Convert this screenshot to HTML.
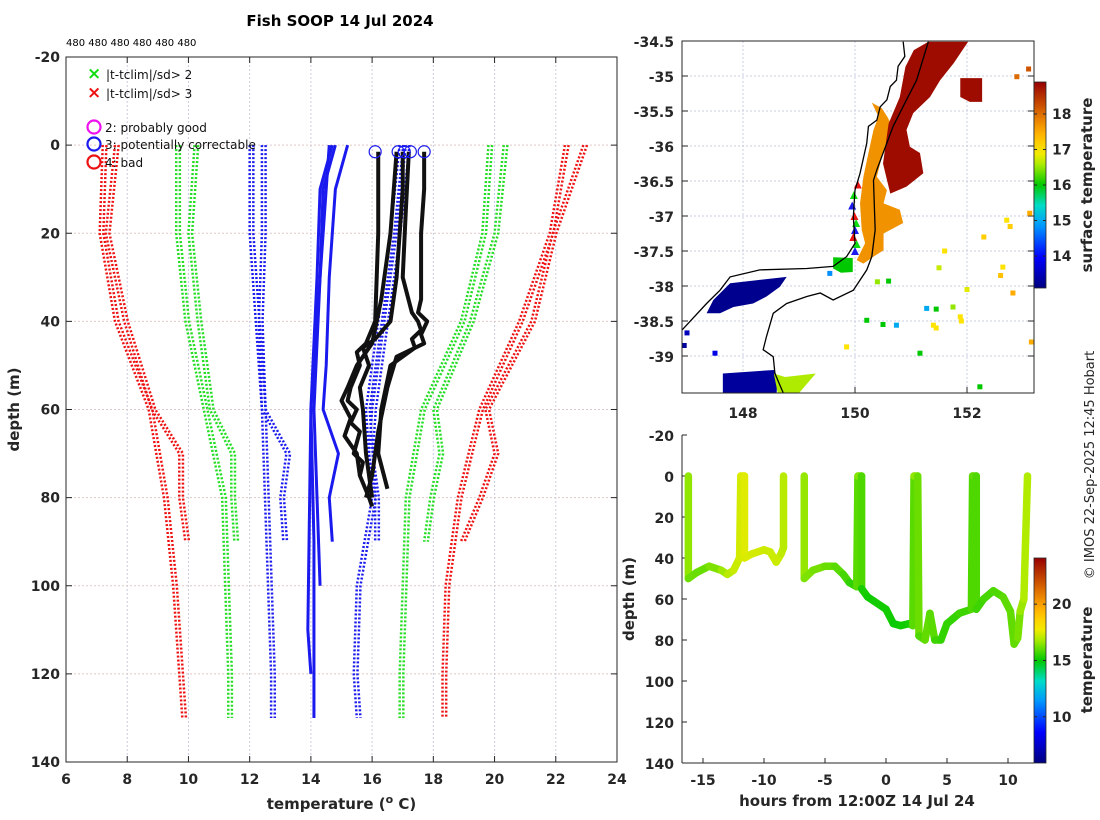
<!DOCTYPE html>
<html><head><meta charset="utf-8">
<style>
html,body{margin:0;padding:0;background:#fff;}
svg{display:block;font-family:"DejaVu Sans","Liberation Sans",sans-serif;}
.tk{font-size:14px;font-weight:bold;fill:#262626;}
.lab{font-size:15px;font-weight:bold;fill:#262626;}
</style></head>
<body>
<svg id="fig" width="1100" height="820" viewBox="0 0 1100 820">
<text x="340" y="26" text-anchor="middle" style="font-size:15px;font-weight:bold;fill:#000">Fish SOOP 14 Jul 2024</text>
<text x="66" y="46" style="font-size:10px;fill:#000">480 480 480 480 480 480</text>
<g id="main"></g>
<g id="map"></g>
<g id="bot"></g>
<text transform="translate(1094,465) rotate(-90)" text-anchor="middle" style="font-size:13px;fill:#262626">© IMOS 22-Sep-2025 12:45 Hobart</text>
</svg>
<script>
// ---------- data: profile plot ----------
const xTicks=[6,8,10,12,14,16,18,20,22,24];
const yTicks=[-20,0,20,40,60,80,100,120,140];
const climDepthLong=[0,20,40,60,80,100,120,130];
const climDepthShort=[0,20,40,60,70,80,90];
const redLeftLong=[7.2,7.1,7.6,8.7,9.2,9.5,9.7,9.8];
const redLeftShort=[7.6,7.3,7.9,8.8,9.7,9.7,9.9];
const greenLeftLong=[9.6,9.6,9.9,10.5,11.1,11.2,11.3,11.3];
const greenLeftShort=[10.2,10.0,10.3,10.7,11.4,11.4,11.5];
const blueLeftLong=[12.0,12.0,12.2,12.4,12.5,12.6,12.7,12.7];
const blueLeftShort=[12.4,12.4,12.3,12.4,13.2,13.0,13.1];
const blueRightLong=[16.9,16.6,16.2,15.8,16.0,15.5,15.4,15.5];
const blueRightShort=[17.1,16.8,16.4,16.0,15.9,16.1,16.1];
const greenRightLong=[19.8,19.6,18.9,17.6,17.1,17.0,16.9,16.9];
const greenRightShort=[20.3,20.0,19.2,18.0,18.2,17.9,17.7];
const redRightLong=[22.3,21.8,20.8,19.5,18.8,18.4,18.3,18.3];
const redRightShort=[22.9,21.9,21.2,19.7,20.0,19.5,18.9];
const solidDepthA=[0,10,30,60,90,120,130];
const solidA=[14.7,14.3,14.2,14.0,14.1,14.1,14.1];
const solidDepthB=[0,10,30,60,80,100];
const solidB=[14.8,14.4,14.3,14.1,14.2,14.3];
const solidDepthC=[0,10,30,50,60,70,80,90];
const solidC=[15.2,14.8,14.6,14.5,14.4,14.9,14.6,14.7];
const solidDepthD=[0,20,60,110,120];
const solidD=[14.6,14.4,14.0,13.9,14.0];
const blkDepth1=[1.5,20,40,45,47,50,55,58,60,63,65,70,72,75,80,82];
const blk1=[16.2,16.2,16.1,15.8,15.5,15.6,15.3,15.2,15.5,15.3,15.6,15.4,15.7,15.6,15.9,16.0];
const blkDepth2=[1.5,10,20,30,40,44,46,50,55,60,70,80];
const blk2=[17.0,17.0,16.9,16.8,16.6,16.1,15.7,15.9,15.6,15.7,15.8,16.0];
const blkDepth3=[1.5,15,30,38,40,42,44,46,50,60,70,78];
const blk3=[17.2,17.1,17.0,17.3,17.5,17.6,17.3,17.4,16.6,16.3,16.2,16.5];
const blkDepth4=[1.5,10,20,35,38,40,43,45,48,55,65,75,80];
const blk4=[17.7,17.7,17.6,17.6,17.5,17.8,17.6,17.7,16.8,16.5,16.2,16.0,15.8];
const blkDepth5=[1.5,20,35,45,50,55,58,62,66,70,75];
const blk5=[16.8,16.6,16.3,16.0,15.5,15.2,15.0,15.3,15.1,15.5,15.6];
const circleTemps=[16.1,16.85,17.05,17.25,17.7];
const circleDepth=1.5;

// ---------- data: map ----------
const lonTicks=[148,150,152];
const latTicks=[-34.5,-35,-35.5,-36,-36.5,-37,-37.5,-38,-38.5,-39];
const mapCbTicks=[14,15,16,17,18];
const coastLon=[150.86,150.89,150.77,150.74,150.63,150.57,150.45,150.39,150.24,150.21,150.09,150.0,149.97,150.0,149.85,149.61,149.14,148.30,147.77,147.59,147.35,146.91];
const coastLat=[-34.51,-34.72,-34.86,-35.06,-35.15,-35.34,-35.44,-35.63,-35.72,-35.96,-36.39,-36.63,-37.01,-37.39,-37.58,-37.72,-37.75,-37.77,-37.87,-38.06,-38.25,-38.63];
const isoLon=[151.31,151.10,150.92,150.68,150.39,150.33,150.36,150.30,150.21,149.97,149.61,149.38,149.14,148.78,148.54,148.42,148.36,148.54,148.57,148.72];
const isoLat=[-34.51,-35.06,-35.34,-35.72,-36.34,-36.49,-37.2,-37.58,-37.77,-38.06,-38.2,-38.1,-38.15,-38.25,-38.39,-38.72,-38.91,-39.01,-39.25,-39.53];
const warmLon=[151.31,152.02,151.76,151.52,151.34,151.04,150.92,150.98,151.16,151.22,150.92,150.63,150.50,150.60,150.80,150.90,151.05];
const warmLat=[-34.51,-34.51,-34.82,-35.06,-35.30,-35.53,-35.77,-36.01,-36.10,-36.39,-36.58,-36.68,-36.25,-35.68,-35.30,-34.87,-34.63];
const warmTemp=18.8;
const shelfLon=[150.30,150.48,150.59,150.66,150.51,150.39,150.57,150.51,150.80,150.86,150.51,150.51,150.33,150.15,150.03,150.18,150.12,150.09,150.15,150.24,150.33,150.42];
const shelfLat=[-35.38,-35.46,-35.60,-35.72,-36.06,-36.44,-36.63,-36.82,-36.91,-37.10,-37.25,-37.49,-37.58,-37.68,-37.63,-37.39,-37.20,-36.82,-36.44,-36.10,-35.77,-35.58];
const shelfTemp=17.7;
const bassLon=[147.77,148.78,148.66,148.42,148.18,147.83,147.59,147.35,147.47];
const bassLat=[-37.96,-37.87,-38.01,-38.15,-38.25,-38.30,-38.39,-38.39,-38.20];
const bassTemp=13.2;
const sLon=[147.64,148.55,148.62,148.6,147.64];
const sLat=[-39.25,-39.2,-39.3,-39.53,-39.53];
const sTemp=13.3;
const sEdgeLon=[148.55,148.75,149.3,149.0,148.62];
const sEdgeLat=[-39.25,-39.3,-39.25,-39.53,-39.53];
const sEdgeTemp=16.6;
const patchLon=[149.61,149.96,149.96,149.75,149.61];
const patchLat=[-37.59,-37.6,-37.8,-37.81,-37.75];
const patchTemp=16.0;
const blobLon=[151.88,152.27,152.27,152.05,151.88];
const blobLat=[-35.03,-35.03,-35.37,-35.37,-35.3];
const pixLon=[152.71,152.77,151.75,151.28,151.45,151.88,151.9,151.4,151.45,150.74,150.5,150.21,152.23,152.82,153.12,153.15,151.16,149.85,152.64,152.6,151.5,150.4,150.6,152.89,153.1,147.0,147.5,146.95,149.55,152.3,151.6,152.0];
const pixLat=[-37.06,-37.15,-38.30,-38.32,-38.33,-38.44,-38.5,-38.56,-38.6,-38.56,-38.55,-38.49,-39.44,-38.1,-36.96,-38.8,-38.96,-38.87,-37.73,-37.85,-37.74,-37.94,-37.93,-35.01,-34.9,-38.67,-38.96,-38.85,-37.82,-37.3,-37.5,-38.05];
const pixTemp=[17.0,17.2,16.5,15.0,16.0,17.0,17.0,17.0,17.0,15.0,16.0,16.0,16.0,17.5,17.5,17.5,16.0,17.0,17.0,17.3,16.7,16.5,16.0,18.0,18.2,13.5,13.8,13.3,14.8,17.2,17.0,16.8];
const trackLon=[150.05,149.98,149.95,149.99,150.02,150.0,149.97,150.03,150.0];
const trackLat=[-36.55,-36.7,-36.85,-37.0,-37.1,-37.2,-37.3,-37.4,-37.5];

// ---------- data: depth-time ----------
const hTicks=[-15,-10,-5,0,5,10];
const dTicks=[-20,0,20,40,60,80,100,120,140];
const botCbTicks=[10,15,20];
const seg1Time=[-16.2,-16.2,-15.5,-14.5,-13.5,-13,-12.5,-12,-11.9,-11.6,-11.6,-11,-10,-9.5,-9,-8.6,-8.4,-8.4];
const seg1Depth=[0,50,47,44,46,48,46,40,0,0,40,38,36,37,42,38,35,0];
const seg1Temp=[16.8,16.3,16.0,16.2,16.5,16.9,17.1,17.3,17.4,17.5,17.5,17.4,17.3,17.2,17.3,17.2,17.0,17.0];
const seg2Time=[-6.7,-6.7,-6,-5,-4.2,-3.5,-3,-2.4,-2.3,-2.0,-2.0,-1.5,-1,0,0.6,1.2,1.9,2.2,2.3,2.6,2.7,3.2,3.6,4,4.5,5,6,7,7.1,7.4,7.4,8,8.8,9.6,10.2,10.5,10.8,11.0,11.3,11.6];
const seg2Depth=[0,50,46,44,44,48,52,54,0,0,55,59,61,65,72,73,72,73,0,0,78,80,67,80,80,72,67,65,0,0,65,60,56,59,66,82,79,66,60,0];
const seg2Temp=[16.8,16.4,16.3,16.2,16.0,15.9,15.6,15.4,16.5,16.4,15.3,15.2,15.1,15.3,15.1,15.1,15.2,15.3,16.6,16.5,15.8,15.9,16.2,15.7,15.6,15.5,15.6,15.7,16.0,16.1,15.6,15.7,15.8,15.9,16.1,16.0,16.1,16.5,16.8,17.0];

// ---------- helpers ----------
const NS='http://www.w3.org/2000/svg';
function mk(tag,attrs,parent){const e=document.createElementNS(NS,tag);for(const k in attrs)e.setAttribute(k,attrs[k]);parent.appendChild(e);return e;}
const cstops=[[0,[0,0,127]],[0.15,[0,0,255]],[0.3,[0,150,255]],[0.4,[0,220,200]],[0.5,[0,200,0]],[0.6,[170,235,0]],[0.66,[255,235,0]],[0.76,[255,170,0]],[0.87,[210,90,0]],[1,[150,0,0]]];
function cmap(t){t=Math.max(0,Math.min(1,t));for(let i=1;i<cstops.length;i++){if(t<=cstops[i][0]){const a=cstops[i-1],b=cstops[i];const f=(t-a[0])/(b[0]-a[0]);const c=a[1].map((v,j)=>Math.round(v+(b[1][j]-v)*f));return 'rgb('+c.join(',')+')';}}return 'rgb(150,0,0)';}

// ---------- main profile plot ----------
const main=document.getElementById('main');
const L=66,R=617,T=57,B=762;
const xs=v=>L+(v-6)/(24-6)*(R-L);
const ys=d=>T+(d+20)/160*(B-T);
xTicks.forEach(v=>{
 const g=mk('line',{x1:xs(v),x2:xs(v),y1:T,y2:B,stroke:'#c8cce0','stroke-dasharray':'2,2','stroke-width':1},main);
 
 mk('line',{x1:xs(v),x2:xs(v),y1:B,y2:B-6,stroke:'#262626'},main);
 mk('line',{x1:xs(v),x2:xs(v),y1:T,y2:T+6,stroke:'#262626'},main);
 const t=mk('text',{x:xs(v),y:B+22,'text-anchor':'middle',class:'tk'},main);t.textContent=v;
 
});
yTicks.forEach(v=>{
 const g=mk('line',{x1:L,x2:R,y1:ys(v),y2:ys(v),stroke:'#e0c8c8','stroke-dasharray':'2,2','stroke-width':1},main);
 
 mk('line',{x1:L,x2:L+6,y1:ys(v),y2:ys(v),stroke:'#262626'},main);
 mk('line',{x1:R,x2:R-6,y1:ys(v),y2:ys(v),stroke:'#262626'},main);
 const t=mk('text',{x:L-6,y:ys(v)+5,'text-anchor':'end',class:'tk'},main);t.textContent=v;
 
});
function prof(temps,depths,color,w,dash,name){
 const p=mk('polyline',{points:temps.map((v,i)=>xs(v)+','+ys(depths[i])).join(' '),fill:'none',stroke:color,'stroke-width':w,'stroke-linejoin':'round'},main);
 if(dash)p.setAttribute('stroke-dasharray',dash);
 
}
[[redLeftLong,climDepthLong,'#ee1111'],[redLeftShort,climDepthShort,'#ee1111'],[greenLeftLong,climDepthLong,'#22dd22'],[greenLeftShort,climDepthShort,'#22dd22'],[blueLeftLong,climDepthLong,'#1a1aee'],[blueLeftShort,climDepthShort,'#1a1aee'],[blueRightLong,climDepthLong,'#1a1aee'],[blueRightShort,climDepthShort,'#1a1aee'],[greenRightLong,climDepthLong,'#22dd22'],[greenRightShort,climDepthShort,'#22dd22'],[redRightLong,climDepthLong,'#ee1111'],[redRightShort,climDepthShort,'#ee1111']].forEach(a=>{
 prof(a[0],a[1],a[2],2.5,'2,2','climatology-line');
 prof(a[0].map(v=>v+0.12),a[1],a[2],2.5,'2,2','climatology-line');
});
[[solidA,solidDepthA],[solidB,solidDepthB],[solidC,solidDepthC],[solidD,solidDepthD]].forEach(a=>prof(a[0],a[1],'#1a1aee',3,null,'xbt-profile'));
[[blk1,blkDepth1],[blk2,blkDepth2],[blk3,blkDepth3],[blk4,blkDepth4],[blk5,blkDepth5]].forEach(a=>prof(a[0],a[1],'#111',4,null,'fish-profile'));
circleTemps.forEach(v=>{const c=mk('circle',{cx:xs(v),cy:ys(circleDepth),r:6,fill:'none',stroke:'#1a1aee','stroke-width':1.2},main);
 });
mk('rect',{x:L,y:T,width:R-L,height:B-T,fill:'none',stroke:'#262626','stroke-width':1},main);
{const t=mk('text',{transform:'translate(19,'+((T+B)/2)+') rotate(-90)','text-anchor':'middle',class:'lab'},main);t.textContent='depth (m)';
 }
{const t=mk('text',{x:(L+R)/2,y:809,'text-anchor':'middle',class:'lab'},main);t.innerHTML='temperature (<tspan dy="-6" font-size="11">o</tspan><tspan dy="6"> C)</tspan>';
 }
// legend
const lg=mk('g',{},main);
[['×','#11dd11','|t-tclim|/sd> 2',74],['×','#ee1111','|t-tclim|/sd> 3',93]].forEach(a=>{
 const m=mk('text',{x:87,y:a[3]+5,style:'font-size:17px;font-weight:bold;fill:'+a[1]},lg);m.textContent=a[0];
 const t=mk('text',{x:106,y:a[3]+5,style:'font-size:12px;fill:#111'},lg);t.textContent=a[2];
 
});
[['#ee11ee','2: probably good',128],['#1a1aee','3: potentially correctable',145],['#ee1111','4: bad',163]].forEach(a=>{
 mk('circle',{cx:94,cy:a[2]-1,r:6.5,fill:'none',stroke:a[0],'stroke-width':2.2},lg);
 const t=mk('text',{x:105,y:a[2]+4,style:'font-size:12px;fill:#111'},lg);t.textContent=a[1];
 
});

// ---------- map ----------
const map=document.getElementById('map');
const mL=682,mR=1034,mT=41,mB=393;
const lx=lon=>743+(lon-148)*56;
const ly=lat=>41+(-34.5-lat)*70;
const clipId='mclip';
const defs=mk('defs',{},map);
const cp=mk('clipPath',{id:clipId},defs);mk('rect',{x:mL,y:mT,width:mR-mL,height:mB-mT},cp);
lonTicks.forEach(v=>{mk('line',{x1:lx(v),x2:lx(v),y1:mT,y2:mB,stroke:'#c8cce0','stroke-dasharray':'2,2'},map);
 mk('line',{x1:lx(v),x2:lx(v),y1:mB,y2:mB-6,stroke:'#262626'},map);
 const t=mk('text',{x:lx(v),y:mB+25,'text-anchor':'middle',class:'tk'},map);t.textContent=v;
 });
latTicks.forEach(v=>{mk('line',{x1:mL,x2:mR,y1:ly(v),y2:ly(v),stroke:'#c8cce0','stroke-dasharray':'2,2'},map);
 mk('line',{x1:mL,x2:mL+6,y1:ly(v),y2:ly(v),stroke:'#262626'},map);mk('line',{x1:mR,x2:mR-6,y1:ly(v),y2:ly(v),stroke:'#262626'},map);
 const t=mk('text',{x:mL-8,y:ly(v)+6,'text-anchor':'end',class:'tk'},map);t.textContent=v;
 });
const mg=mk('g',{'clip-path':'url(#'+clipId+')'},map);
const mcol=v=>cmap((v-13.1)/(18.9-13.1));
function poly(lons,lats,fill,name){const p=mk('polygon',{points:lons.map((v,i)=>lx(v)+','+ly(lats[i])).join(' '),fill:fill},mg);
 }
poly(shelfLon,shelfLat,mcol(shelfTemp),'sst-shelf-region');
poly(warmLon,warmLat,mcol(warmTemp),'sst-warm-region');
poly(blobLon,blobLat,mcol(warmTemp),'sst-warm-blob');
poly(bassLon,bassLat,mcol(bassTemp),'sst-bass-strait');
poly(sLon,sLat,mcol(sTemp),'sst-south-cold');
poly(sEdgeLon,sEdgeLat,mcol(sEdgeTemp),'sst-south-front');
poly(patchLon,patchLat,mcol(patchTemp),'sst-coastal-patch');
pixLon.forEach((v,i)=>{const r=mk('rect',{x:lx(v)-2.5,y:ly(pixLat[i])-2.5,width:5,height:5,fill:mcol(pixTemp[i])},mg);
 });
trackLon.forEach((v,i)=>{const c=['#ee1111','#11dd11','#1a1aee'][i%3];
 const p=mk('polygon',{points:(lx(v)-4)+','+(ly(trackLat[i])+4)+' '+(lx(v)+4)+','+(ly(trackLat[i])+4)+' '+lx(v)+','+(ly(trackLat[i])-4),fill:c},mg);
 });
{const p=mk('polyline',{points:coastLon.map((v,i)=>lx(v)+','+ly(coastLat[i])).join(' '),fill:'none',stroke:'#000','stroke-width':1.3},mg);
 }
{const p=mk('polyline',{points:isoLon.map((v,i)=>lx(v)+','+ly(isoLat[i])).join(' '),fill:'none',stroke:'#000','stroke-width':1.3},mg);
 }
mk('rect',{x:mL,y:mT,width:mR-mL,height:mB-mT,fill:'none',stroke:'#262626'},map);
// colorbars
function colorbar(parent,x,y0,y1,vmin,vmax,ticks,id,title,titleY){
 const g=mk('linearGradient',{id:id,x1:0,y1:1,x2:0,y2:0},defs);
 for(let i=0;i<=20;i++)mk('stop',{offset:i/20,'stop-color':cmap(i/20)},g);
 const r=mk('rect',{x:x,y:y0,width:12,height:y1-y0,fill:'url(#'+id+')',stroke:'#262626','stroke-width':0.8},parent);
 
 ticks.forEach(v=>{const yy=y1-(v-vmin)/(vmax-vmin)*(y1-y0);mk('line',{x1:x,x2:x+3,y1:yy,y2:yy,stroke:'#262626'},parent);
  mk('line',{x1:x+9,x2:x+12,y1:yy,y2:yy,stroke:'#262626'},parent);
  const t=mk('text',{x:x+18,y:yy+5,class:'tk'},parent);t.textContent=v;
  });
 const t=mk('text',{transform:'translate(1092,'+titleY+') rotate(-90)','text-anchor':'middle',class:'lab'},parent);t.textContent=title;
 
}
colorbar(map,1034,82,288,13.1,18.9,mapCbTicks,'g1','surface temperature',185);

// ---------- depth-time plot ----------
const bot=document.getElementById('bot');
const bL=682,bR=1034,bT=435,bB=763;
const hx=h=>886+h*12.2;
const dy=d=>476+d*2.05;
hTicks.forEach(v=>{mk('line',{x1:hx(v),x2:hx(v),y1:bB,y2:bB-5,stroke:'#262626'},bot);
 const t=mk('text',{x:hx(v),y:bB+22,'text-anchor':'middle',class:'tk'},bot);t.textContent=v;
 });
dTicks.forEach(v=>{mk('line',{x1:bL,x2:bL+5,y1:dy(v),y2:dy(v),stroke:'#262626'},bot);
 const t=mk('text',{x:bL-8,y:dy(v)+6,'text-anchor':'end',class:'tk'},bot);t.textContent=v;
 });
mk('line',{x1:bL,x2:bL,y1:bT,y2:bB,stroke:'#262626'},bot);
mk('line',{x1:bL,x2:bR,y1:bB,y2:bB,stroke:'#262626'},bot);
const bcol=v=>cmap((v-5.9)/(24.1-5.9));
function trace(ts,ds,tm){for(let i=1;i<ts.length;i++){
 const l=mk('line',{x1:hx(ts[i-1]),y1:dy(ds[i-1]),x2:hx(ts[i]),y2:dy(ds[i]),stroke:bcol((tm[i-1]+tm[i])/2),'stroke-width':7.5,'stroke-linecap':'round'},bot);
 }}
trace(seg1Time,seg1Depth,seg1Temp);
trace(seg2Time,seg2Depth,seg2Temp);
{const t=mk('text',{transform:'translate(634,599) rotate(-90)','text-anchor':'middle',class:'lab'},bot);t.textContent='depth (m)';
 }
{const t=mk('text',{x:857,y:806,'text-anchor':'middle',class:'lab'},bot);t.textContent='hours from 12:00Z 14 Jul 24';
 }
colorbar(bot,1034,558,763,5.9,24.1,botCbTicks,'g2','temperature',660);
</script>
</body></html>
